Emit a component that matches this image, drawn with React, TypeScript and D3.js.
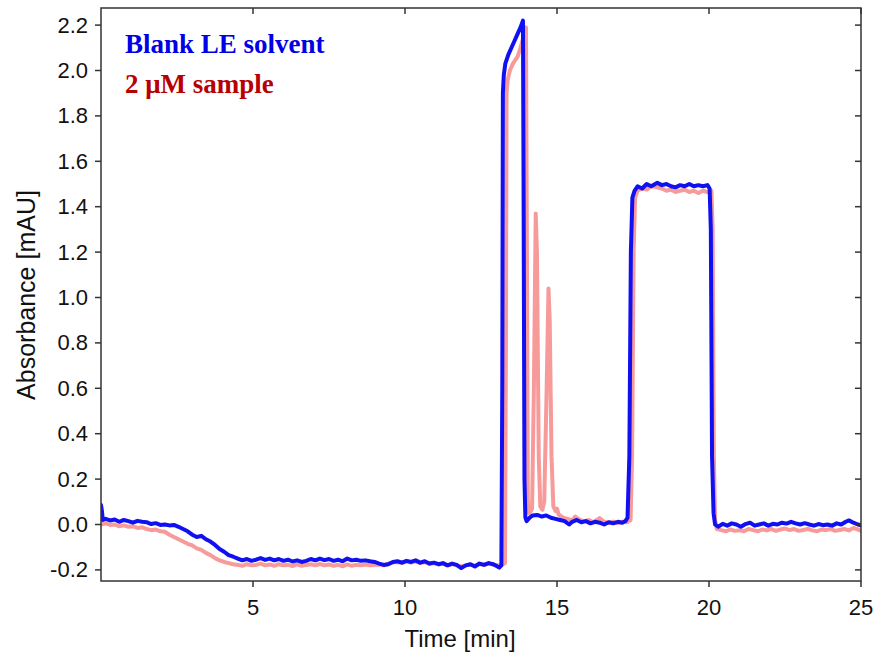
import React from "react";
import * as d3 from "d3";

// ---- data ----
const xTicks = [5, 10, 15, 20, 25];
const yTicks = [-0.2, 0.0, 0.2, 0.4, 0.6, 0.8, 1.0, 1.2, 1.4, 1.6, 1.8, 2.0, 2.2];
const legendLabels = ["Blank LE solvent", "2 μM sample"];

const blueTime = [
  0.0, 0.03, 0.06, 0.15, 0.3, 0.45, 0.6, 0.75, 0.9, 1.05, 1.2, 1.35, 1.5, 1.65, 1.8, 1.95,
  2.1, 2.25, 2.4, 2.55, 2.7, 2.85, 3.0, 3.15, 3.3, 3.45, 3.6, 3.75, 3.9, 4.05, 4.2, 4.35,
  4.5, 4.65, 4.8, 4.95, 5.1, 5.25, 5.4, 5.55, 5.7, 5.85, 6.0, 6.15, 6.3, 6.45, 6.6, 6.75,
  6.9, 7.05, 7.2, 7.35, 7.5, 7.65, 7.8, 7.95, 8.1, 8.25, 8.4, 8.55, 8.7, 8.85, 9.0, 9.15,
  9.3, 9.45, 9.6, 9.75, 9.9, 10.05, 10.2, 10.35, 10.5, 10.65, 10.8, 10.95, 11.1, 11.25,
  11.4, 11.55, 11.7, 11.85, 12.0, 12.15, 12.3, 12.45, 12.6, 12.75, 12.9, 13.0, 13.1, 13.17,
  13.2, 13.22, 13.25, 13.3, 13.4, 13.5, 13.6, 13.7, 13.8, 13.88, 13.9, 13.93, 13.96, 14.0,
  14.1, 14.2, 14.35, 14.5, 14.65, 14.8, 14.95, 15.1, 15.25, 15.4, 15.5, 15.65, 15.8, 15.95,
  16.1, 16.25, 16.4, 16.55, 16.7, 16.85, 17.0, 17.15, 17.25, 17.32, 17.38, 17.43, 17.48,
  17.55, 17.65, 17.8, 17.95, 18.1, 18.3, 18.45, 18.6, 18.75, 18.9, 19.05, 19.2, 19.35, 19.5,
  19.65, 19.8, 19.95, 20.02, 20.06, 20.1, 20.15, 20.2, 20.3, 20.45, 20.6, 20.75, 20.9, 21.05,
  21.2, 21.35, 21.5, 21.65, 21.8, 21.95, 22.1, 22.25, 22.4, 22.55, 22.7, 22.85, 23.0, 23.15,
  23.3, 23.45, 23.6, 23.75, 23.9, 24.05, 24.2, 24.35, 24.5, 24.6, 24.75, 24.9, 25.0,
];
const blueAbs = [
  0.086, 0.06, 0.02, 0.025, 0.018, 0.022, 0.012, 0.02, 0.015, 0.008, 0.016, 0.012, 0.01, 0.002, 0.006, -0.002,
  0.0, -0.004, -0.002, -0.01, -0.02, -0.03, -0.045, -0.055, -0.05, -0.065, -0.075, -0.09, -0.108, -0.12, -0.135, -0.142,
  -0.15, -0.158, -0.152, -0.16, -0.155, -0.148, -0.156, -0.15, -0.158, -0.152, -0.16, -0.155, -0.163, -0.158, -0.165, -0.16,
  -0.152, -0.158, -0.15, -0.157, -0.152, -0.16, -0.155, -0.162, -0.15, -0.158, -0.155, -0.16, -0.158, -0.162, -0.165, -0.172,
  -0.178, -0.175, -0.165, -0.162, -0.168, -0.16, -0.165, -0.158, -0.168, -0.162, -0.172, -0.168, -0.175, -0.17,
  -0.18, -0.172, -0.178, -0.192, -0.18, -0.175, -0.185, -0.172, -0.178, -0.17, -0.175, -0.182, -0.19, -0.18,
  0.6, 1.9, 1.98, 2.03, 2.07, 2.1, 2.13, 2.16, 2.19, 2.22, 1.5, 0.2, 0.03, 0.015,
  0.03, 0.04, 0.042, 0.035, 0.04, 0.03, 0.025, 0.02, 0.015, 0.0, 0.012, 0.02, 0.01, 0.015,
  0.005, 0.012, 0.008, 0.0, 0.01, 0.005, 0.012, 0.008, 0.015, 0.03, 0.3, 1.2, 1.44,
  1.47, 1.49, 1.48, 1.5, 1.49, 1.505, 1.495, 1.5, 1.49, 1.485, 1.495, 1.49, 1.5, 1.49,
  1.495, 1.49, 1.495, 1.48, 1.3, 0.3, 0.05, 0.0, -0.01, 0.003, -0.005, 0.005, 0.0, -0.01,
  0.002, 0.008, -0.005, 0.0, 0.005, -0.005, 0.003, 0.0, 0.008, 0.004, 0.012, 0.005, 0.0, 0.006,
  0.0, -0.005, 0.002, -0.003, 0.0, -0.005, 0.005, 0.0, 0.012, 0.018, 0.008, 0.0, -0.004,
];

const redTime = [
  0.0, 0.15, 0.3, 0.45, 0.6, 0.75, 0.9, 1.05, 1.2, 1.35, 1.5, 1.65, 1.8, 1.95, 2.1, 2.25,
  2.4, 2.55, 2.7, 2.85, 3.0, 3.15, 3.3, 3.45, 3.6, 3.75, 3.9, 4.05, 4.2, 4.35, 4.5, 4.65,
  4.8, 4.95, 5.1, 5.25, 5.4, 5.55, 5.7, 5.85, 6.0, 6.15, 6.3, 6.45, 6.6, 6.75, 6.9, 7.05,
  7.2, 7.35, 7.5, 7.65, 7.8, 7.95, 8.1, 8.25, 8.4, 8.55, 8.7, 8.85, 9.0, 9.15, 9.3, 9.45,
  9.6, 9.75, 9.9, 10.05, 10.2, 10.35, 10.5, 10.65, 10.8, 10.95, 11.1, 11.25, 11.4, 11.55,
  11.7, 11.85, 12.0, 12.15, 12.3, 12.45, 12.6, 12.75, 12.9, 13.05, 13.2, 13.29, 13.32,
  13.34, 13.38, 13.45, 13.55, 13.7, 13.8, 13.9, 13.98, 14.01, 14.04, 14.08, 14.12, 14.18,
  14.24, 14.3, 14.34, 14.4, 14.45, 14.52, 14.58, 14.66, 14.72, 14.76, 14.82, 14.88, 14.95,
  15.0, 15.05, 15.2, 15.35, 15.5, 15.6, 15.75, 15.9, 16.05, 16.2, 16.4, 16.55, 16.7, 16.85,
  17.0, 17.15, 17.3, 17.42, 17.47, 17.52, 17.57, 17.65, 17.8, 17.95, 18.1, 18.3, 18.45,
  18.6, 18.75, 18.9, 19.05, 19.2, 19.35, 19.5, 19.65, 19.8, 19.95, 20.08, 20.12, 20.16,
  20.2, 20.26, 20.4, 20.55, 20.7, 20.85, 21.0, 21.15, 21.3, 21.45, 21.6, 21.75, 21.9, 22.05,
  22.2, 22.35, 22.5, 22.65, 22.8, 22.95, 23.1, 23.25, 23.4, 23.55, 23.7, 23.85, 24.0, 24.15,
  24.3, 24.45, 24.6, 24.75, 24.9, 25.0,
];
const redAbs = [
  0.0, 0.005, -0.002, 0.0, -0.008, -0.004, -0.01, -0.008, -0.015, -0.012, -0.02, -0.025, -0.022, -0.03, -0.032, -0.045,
  -0.055, -0.065, -0.075, -0.085, -0.092, -0.105, -0.112, -0.125, -0.135, -0.148, -0.158, -0.165, -0.17, -0.175, -0.178, -0.182,
  -0.175, -0.18, -0.178, -0.172, -0.18, -0.176, -0.182, -0.175, -0.18, -0.178, -0.183, -0.176, -0.182, -0.178, -0.175, -0.18,
  -0.174, -0.18, -0.176, -0.182, -0.178, -0.184, -0.176, -0.182, -0.178, -0.18, -0.176, -0.18, -0.178, -0.176, -0.18, -0.172,
  -0.168, -0.165, -0.17, -0.162, -0.168, -0.162, -0.17, -0.165, -0.174, -0.17, -0.176, -0.172, -0.18, -0.174,
  -0.18, -0.185, -0.18, -0.176, -0.182, -0.174, -0.178, -0.172, -0.176, -0.18, -0.178, -0.17, 0.8,
  1.9, 1.96, 2.0, 2.03, 2.06, 2.1, 2.15, 2.19, 1.2, 0.1, 0.05, 0.055, 0.07,
  0.6, 1.37, 1.2, 0.3, 0.08, 0.065, 0.1, 0.6, 1.04, 0.9, 0.3, 0.08, 0.06,
  0.07, 0.045, 0.03, 0.025, 0.018, 0.035, 0.02, 0.015, 0.02, 0.01, 0.028, 0.012, 0.008, 0.012,
  0.006, 0.012, 0.01, 0.02, 0.3, 1.2, 1.44, 1.47, 1.48, 1.475, 1.49, 1.485, 1.48,
  1.47, 1.475, 1.465, 1.47, 1.475, 1.465, 1.47, 1.46, 1.47, 1.465, 1.47, 1.3, 0.3, 0.02,
  -0.02, -0.025, -0.03, -0.022, -0.028, -0.025, -0.03, -0.02, -0.025, -0.03, -0.022, -0.026, -0.02, -0.028,
  -0.022, -0.018, -0.025, -0.02, -0.028, -0.024, -0.02, -0.026, -0.03, -0.022, -0.025, -0.02, -0.028, -0.024,
  -0.02, -0.026, -0.015, -0.022, -0.028, -0.025,
];

const W = 880;
const H = 657;
const M = { left: 101, right: 861, top: 8, bottom: 581 };

export default function App() {
  const x = d3.scaleLinear().domain([0, 25]).range([M.left, M.right]);
  const y = d3.scaleLinear().domain([-0.2, 2.2]).range([569.9, 25.1]);

  const line = d3
    .line<[number, number]>()
    .x((d) => x(d[0]))
    .y((d) => y(d[1]))
    .curve(d3.curveLinear);

  const blue = blueTime.map((t, i) => [t, blueAbs[i]] as [number, number]);
  const red = redTime.map((t, i) => [t, redAbs[i]] as [number, number]);

  const axisColor = "#333";
  const sans = "Arial, 'Liberation Sans', sans-serif";
  const serif = "'Times New Roman', 'Liberation Serif', serif";

  return (
    <svg
      width={W}
      height={H}
      style={{ position: "absolute", left: 0, top: 0, background: "#fff" }}
    >
      <defs>
        <clipPath id="plotClip">
          <rect x={M.left} y={M.top} width={M.right - M.left} height={M.bottom - M.top} />
        </clipPath>
      </defs>
      <rect x={0} y={0} width={W} height={H} fill="#fff" />

      <g clipPath="url(#plotClip)">
        <path
          d={line(red) || ""}
          fill="none"
          stroke="#f79a9a"
          strokeWidth={4}
          strokeLinejoin="round"
          strokeLinecap="round"
        />
        <path
          d={line(blue) || ""}
          fill="none"
          stroke="#1010f0"
          strokeWidth={4}
          strokeLinejoin="round"
          strokeLinecap="round"
        />
      </g>

      {/* frame */}
      <rect
        x={M.left}
        y={M.top}
        width={M.right - M.left}
        height={M.bottom - M.top}
        fill="none"
        stroke={axisColor}
        strokeWidth={1.5}
      />

      {/* y ticks */}
      {yTicks.map((v) => (
        <g key={"y" + v}>
          <line x1={M.left - 6} x2={M.left} y1={y(v)} y2={y(v)} stroke={axisColor} strokeWidth={1.5} />
          <line x1={M.right - 6} x2={M.right} y1={y(v)} y2={y(v)} stroke={axisColor} strokeWidth={1.5} />
          <text
            x={M.left - 13}
            y={y(v)}
            textAnchor="end"
            dominantBaseline="central"
            fontFamily={sans}
            fontSize={22}
            fill="#111"
          >
            {v.toFixed(1)}
          </text>
        </g>
      ))}

      {/* x ticks */}
      {xTicks.map((t) => (
        <g key={"x" + t}>
          <line x1={x(t)} x2={x(t)} y1={M.bottom} y2={M.bottom + 6} stroke={axisColor} strokeWidth={1.5} />
          <line x1={x(t)} x2={x(t)} y1={M.top} y2={M.top + 6} stroke={axisColor} strokeWidth={1.5} />
          <text
            x={x(t)}
            y={615}
            textAnchor="middle"
            fontFamily={sans}
            fontSize={22}
            fill="#111"
          >
            {t}
          </text>
        </g>
      ))}

      {/* axis titles */}
      <text x={460} y={647} textAnchor="middle" fontFamily={sans} fontSize={24} fill="#111">
        Time [min]
      </text>
      <text
        transform={`translate(35, 295) rotate(-90)`}
        textAnchor="middle"
        fontFamily={sans}
        fontSize={25}
        fill="#111"
      >
        Absorbance [mAU]
      </text>

      {/* legend */}
      <text x={125} y={53} fontFamily={serif} fontWeight="bold" fontSize={27} fill="#0000e6">
        {legendLabels[0]}
      </text>
      <text x={125} y={93} fontFamily={serif} fontWeight="bold" fontSize={27} fill="#b80000">
        {legendLabels[1]}
      </text>
    </svg>
  );
}
